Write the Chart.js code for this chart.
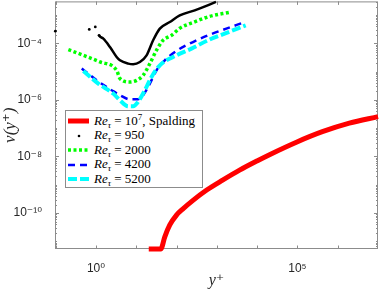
<!DOCTYPE html>
<html>
<head>
<meta charset="utf-8">
<script src="https://cdn.jsdelivr.net/npm/chart.js@4/dist/chart.umd.min.js"></script>
<style>
  html, body { margin: 0; padding: 0; background: #fff; }
  #wrap { position: relative; width: 381px; height: 291px; }
  #legend {
    position: absolute; left: 65px; top: 110px; width: 138px; height: 78px;
    box-sizing: border-box; border: 1px solid #8c8c8c; background: #fff;
    font-family: "Liberation Serif", "DejaVu Serif", serif; font-size: 13px; color: #000;
  }
  #legend .row { position: absolute; left: 2px; height: 14px; display: flex; align-items: center; white-space: nowrap; }
  #legend svg { margin-right: 5px; }
  #legend sub { font-size: 9px; vertical-align: -3px; }
  #legend sup { font-size: 9px; vertical-align: 5px; }
</style>
</head>
<body>
<div id="wrap">
  <canvas id="myChart" width="381" height="291"></canvas>
  <div id="legend"></div>
</div>
<script>
// Spalding law, Re_tau = 1e7
const spaldingYPlus = [20.4, 40.6, 51, 67.9, 99.5, 142, 251, 560, 1390, 3660, 10200, 20300, 94400, 416000, 1940000, 1e7];
const spaldingNu = [5.36e-12, 5.36e-12, 1.45e-11, 3.8e-11, 8.5e-11, 1.38e-10, 2.75e-10, 6.5e-10, 1.46e-9, 3.29e-9, 7.1e-9, 1.16e-8, 3.2e-8, 7.5e-8, 1.5e-7, 2.55e-7];

// DNS, Re_tau = 950
const re950YPlus = [0.098, 0.68, 0.96, 1.19, 1.31, 1.52, 2.22, 3.25, 3.93, 6.31, 8.38, 12.3, 18.0, 26.2, 38.4, 67.9, 120, 282, 950];
const re950Nu = [2.69e-4, 3.09e-4, 3.8e-4, 1.91e-4, 1.66e-4, 1.47e-4, 7.4e-5, 3.28e-5, 2.51e-5, 1.92e-5, 1.82e-5, 2.19e-5, 3.77e-5, 1.28e-4, 3.3e-4, 5.65e-4, 9.7e-4, 1.46e-3, 2.9e-3];

// DNS, Re_tau = 2000
const re2000YPlus = [0.206, 0.485, 1.26, 3.25, 3.93, 6.95, 10.2, 14.8, 21.7, 31.8, 46.3, 74.8, 120, 282, 664, 2000];
const re2000Nu = [6.0e-5, 3.77e-5, 2.19e-5, 1.11e-5, 5.7e-6, 4.3e-6, 4.9e-6, 7.4e-6, 1.92e-5, 5.7e-5, 1.28e-4, 1.91e-4, 3.39e-4, 5.75e-4, 8.97e-4, 1.24e-3];

// DNS, Re_tau = 4200
const re4200YPlus = [0.443, 1.04, 2.45, 3.93, 6.95, 11.1, 14.8, 21.7, 31.8, 51.1, 104, 256, 603, 1720, 4200];
const re4200Nu = [1.28e-5, 4.94e-6, 2.19e-6, 1.46e-6, 1.05e-6, 1.05e-6, 1.46e-6, 3.78e-6, 1.11e-5, 2.51e-5, 5.66e-5, 1.11e-4, 1.91e-4, 3.3e-4, 5.2e-4];

// DNS, Re_tau = 5200
const re5200YPlus = [0.485, 1.14, 2.68, 3.93, 6.31, 8.38, 11.1, 16.3, 23.9, 38.4, 99.5, 234, 603, 1560, 5200];
const re5200Nu = [1.05e-5, 3.78e-6, 1.67e-6, 9.7e-7, 5.97e-7, 5.97e-7, 8.5e-7, 2.19e-6, 6.5e-6, 1.67e-5, 3.77e-5, 6.5e-5, 1.28e-4, 2.2e-4, 4.3e-4];

const seriesNames = ['Re_tau = 1e7, Spalding', 'Re_tau = 950', 'Re_tau = 2000', 'Re_tau = 4200', 'Re_tau = 5200'];
const legendValues = ['10<sup>7</sup>, Spalding', '950', '2000', '4200', '5200'];

const xTicks = [1e0, 1e5];
const xTickLabels = ['10⁰', '10⁵'];
const yTicks = [1e-10, 1e-8, 1e-6, 1e-4];
const yTickLabels = ['10⁻¹⁰', '10⁻⁸', '10⁻⁶', '10⁻⁴'];

const axisGray = '#8c8c8c';
const tickFont = { family: "'Liberation Sans', 'DejaVu Sans', sans-serif", size: 12 };
const titleFont = { family: "'Liberation Serif', 'DejaVu Serif', serif", size: 16, style: 'italic' };

const toPoints = (xs, ys) => xs.map((x, i) => ({ x: x, y: ys[i] }));

// keep the plot box where the reference has it
const noPad = scale => {
  scale.paddingTop = 0; scale.paddingBottom = 0;
  scale.paddingLeft = 0; scale.paddingRight = 0;
};

// MATLAB-like box with inward ticks
const axesBox = {
  id: 'axesBox',
  beforeDatasetsDraw(chart) {
    const { ctx, chartArea: a, scales } = chart;
    const x = scales.x, y = scales.y;
    ctx.save();
    ctx.strokeStyle = axisGray;
    ctx.lineWidth = 1;
    ctx.beginPath();
    for (let k = -1; k <= 7; k++) {
      const px = Math.round(x.getPixelForValue(Math.pow(10, k))) + 0.5;
      if (px < a.left || px > a.right) continue;
      ctx.moveTo(px, a.bottom); ctx.lineTo(px, a.bottom - 3.5);
      ctx.moveTo(px, a.top); ctx.lineTo(px, a.top + 3.5);
    }
    for (let k = -12; k <= -2; k++) {
      for (let m = 1; m <= 9; m++) {
        const v = m * Math.pow(10, k);
        if (v < y.min || v > y.max) continue;
        const major = m === 1 && yTicks.some(t => Math.abs(Math.log10(t) - k) < 1e-6);
        const len = major ? 4 : 2;
        const py = Math.round(y.getPixelForValue(v)) + 0.5;
        ctx.moveTo(a.left, py); ctx.lineTo(a.left + len, py);
        ctx.moveTo(a.right, py); ctx.lineTo(a.right - len, py);
      }
    }
    ctx.stroke();
    ctx.strokeRect(a.left + 0.5, a.top + 0.5, a.width - 1, a.height - 1);
    ctx.restore();
  }
};

// legend as html so Re_tau can be set with sub/superscripts
const htmlLegend = {
  id: 'htmlLegend',
  afterUpdate(chart) {
    const box = document.getElementById('legend');
    box.innerHTML = '';
    chart.data.datasets.forEach((ds, i) => {
      const row = document.createElement('div');
      row.className = 'row';
      row.style.top = (3 + 14.5 * i) + 'px';
      let sample;
      if (ds.legendDot) {
        sample = '<svg width="21" height="10"><circle cx="11" cy="5" r="1.3" fill="' + ds.borderColor + '"/></svg>';
      } else {
        const dash = ds.borderDash && ds.borderDash.length ? ' stroke-dasharray="' + ds.borderDash.join(',') + '"' : '';
        sample = '<svg width="21" height="10"><line x1="0" y1="5" x2="21" y2="5" stroke="' + ds.borderColor +
          '" stroke-width="' + ds.borderWidth + '"' + dash + '/></svg>';
      }
      row.innerHTML = sample + '<span><i>Re</i><sub><i>τ</i></sub> = ' + legendValues[i] + '</span>';
      box.appendChild(row);
    });
  }
};

new Chart(document.getElementById('myChart'), {
  type: 'line',
  data: {
    datasets: [
      {
        label: seriesNames[0],
        data: toPoints(spaldingYPlus, spaldingNu),
        borderColor: '#ff0000',
        borderWidth: 5,
        order: 4
      },
      {
        label: seriesNames[1],
        data: toPoints(re950YPlus, re950Nu),
        borderColor: '#000000',
        borderWidth: 2.5,
        legendDot: true,
        pointRadius: ctx => (ctx.dataIndex < 4 ? 1.4 : 0),
        pointBackgroundColor: '#000000',
        pointBorderWidth: 0,
        segment: {
          borderColor: ctx => (ctx.p0DataIndex < 3 ? 'rgba(0,0,0,0)' : undefined)
        },
        order: 3
      },
      {
        label: seriesNames[2],
        data: toPoints(re2000YPlus, re2000Nu),
        borderColor: '#00ff00',
        borderWidth: 3.5,
        borderDash: [3, 2.5],
        order: 2
      },
      {
        label: seriesNames[3],
        data: toPoints(re4200YPlus, re4200Nu),
        borderColor: '#0000ff',
        borderWidth: 2.5,
        borderDash: [7, 5],
        order: 1
      },
      {
        label: seriesNames[4],
        data: toPoints(re5200YPlus, re5200Nu),
        borderColor: '#00ffff',
        borderWidth: 4,
        borderDash: [9, 3],
        order: 0
      }
    ]
  },
  options: {
    responsive: false,
    animation: false,
    clip: 6,
    layout: { padding: { top: 1, right: 3, left: 0, bottom: 0 } },
    elements: {
      line: { cubicInterpolationMode: 'monotone', fill: false },
      point: { radius: 0, hoverRadius: 0 }
    },
    scales: {
      x: {
        type: 'logarithmic',
        min: 0.096,
        max: 1e7,
        afterBuildTicks: scale => { scale.ticks = xTicks.map(v => ({ value: v })); },
        afterFit: scale => { scale.height = 42; noPad(scale); },
        grid: { display: false },
        border: { display: false },
        ticks: {
          autoSkip: false,
          maxRotation: 0,
          padding: 4,
          color: '#262626',
          font: tickFont,
          callback: (v, i) => xTickLabels[i]
        },
        title: { display: true, text: 'y⁺', color: '#262626', font: titleFont, padding: { top: 0, bottom: 1 } }
      },
      y: {
        type: 'logarithmic',
        min: 5.36e-12,
        max: 3.03e-3,
        afterBuildTicks: scale => { scale.ticks = yTicks.map(v => ({ value: v })); },
        afterFit: scale => { scale.width = 55; noPad(scale); },
        grid: { display: false },
        border: { display: false },
        ticks: {
          autoSkip: false,
          padding: 5,
          color: '#262626',
          font: tickFont,
          callback: (v, i) => yTickLabels[i]
        },
        title: { display: true, text: 'ν(y⁺)', color: '#262626', font: { family: titleFont.family, size: 17, style: 'italic' }, padding: 0 }
      }
    },
    plugins: {
      legend: { display: false },
      tooltip: { enabled: false }
    }
  },
  plugins: [axesBox, htmlLegend]
});
</script>
</body>
</html>
